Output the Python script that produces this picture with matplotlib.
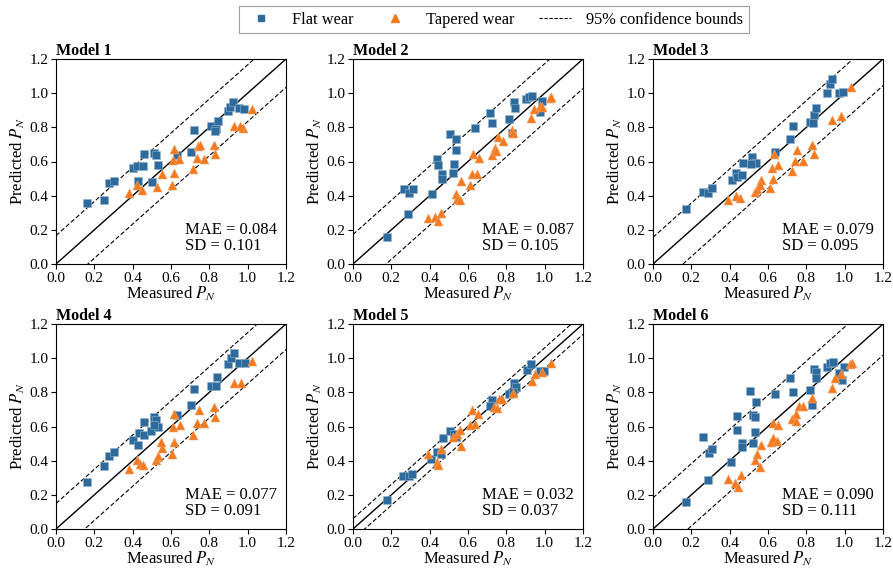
import matplotlib
matplotlib.use("Agg")
import matplotlib.pyplot as plt
from matplotlib.lines import Line2D

plt.rcParams['font.family'] = ['Liberation Serif', 'DejaVu Serif']
plt.rcParams['mathtext.fontset'] = 'stix'
plt.rcParams['font.size'] = 11

# ---------------- data ----------------
model_names = ["Model 1", "Model 2", "Model 3", "Model 4", "Model 5", "Model 6"]
mae_values = [0.084, 0.087, 0.079, 0.077, 0.032, 0.090]
sd_values = [0.101, 0.105, 0.095, 0.091, 0.037, 0.111]
bound_factor = 1.645

m1_flat_x = [0.164, 0.253, 0.279, 0.300, 0.400, 0.423, 0.452, 0.459, 0.513, 0.524, 0.531, 0.428, 0.500, 0.630, 0.704, 0.720, 0.807, 0.833, 0.830, 0.845, 0.896, 0.908, 0.926, 0.955, 0.980]
m1_flat_y = [0.360, 0.374, 0.473, 0.483, 0.561, 0.575, 0.575, 0.643, 0.650, 0.640, 0.580, 0.483, 0.481, 0.639, 0.655, 0.787, 0.805, 0.790, 0.780, 0.840, 0.898, 0.921, 0.951, 0.912, 0.908]
m1_tap_x = [0.383, 0.421, 0.450, 0.527, 0.554, 0.603, 0.618, 0.617, 0.612, 0.643, 0.716, 0.734, 0.741, 0.750, 0.772, 0.823, 0.828, 0.929, 0.976, 0.960, 1.020]
m1_tap_y = [0.415, 0.460, 0.434, 0.452, 0.526, 0.464, 0.532, 0.672, 0.608, 0.616, 0.555, 0.619, 0.688, 0.694, 0.612, 0.697, 0.643, 0.808, 0.799, 0.810, 0.908]

m2_flat_x = [0.175, 0.288, 0.265, 0.293, 0.311, 0.410, 0.437, 0.442, 0.466, 0.466, 0.507, 0.538, 0.535, 0.529, 0.524, 0.636, 0.716, 0.727, 0.816, 0.828, 0.838, 0.847, 0.903, 0.920, 0.934, 0.987, 0.978]
m2_flat_y = [0.157, 0.292, 0.440, 0.415, 0.440, 0.409, 0.617, 0.577, 0.529, 0.495, 0.763, 0.734, 0.670, 0.587, 0.532, 0.797, 0.885, 0.828, 0.848, 0.767, 0.949, 0.914, 0.963, 0.977, 0.983, 0.955, 0.891]
m2_tap_x = [0.393, 0.428, 0.445, 0.459, 0.538, 0.545, 0.559, 0.564, 0.611, 0.620, 0.646, 0.625, 0.655, 0.725, 0.743, 0.746, 0.756, 0.780, 0.830, 0.833, 0.931, 0.943, 0.978, 0.987, 1.027, 1.034]
m2_tap_y = [0.268, 0.274, 0.251, 0.300, 0.411, 0.382, 0.372, 0.483, 0.460, 0.529, 0.529, 0.646, 0.620, 0.636, 0.679, 0.660, 0.744, 0.720, 0.783, 0.767, 0.855, 0.906, 0.924, 0.920, 0.973, 0.979]

m3_flat_x = [0.171, 0.260, 0.287, 0.308, 0.410, 0.435, 0.440, 0.466, 0.470, 0.519, 0.528, 0.537, 0.510, 0.637, 0.713, 0.730, 0.818, 0.836, 0.839, 0.853, 0.908, 0.924, 0.936, 0.968, 0.990]
m3_flat_y = [0.323, 0.421, 0.415, 0.446, 0.493, 0.534, 0.509, 0.523, 0.593, 0.626, 0.593, 0.593, 0.585, 0.656, 0.730, 0.806, 0.832, 0.826, 0.871, 0.914, 1.002, 1.051, 1.082, 1.002, 1.008]
m3_tap_x = [0.392, 0.435, 0.454, 0.533, 0.540, 0.563, 0.560, 0.612, 0.628, 0.621, 0.654, 0.630, 0.727, 0.741, 0.751, 0.783, 0.832, 0.839, 0.936, 0.982, 1.035]
m3_tap_y = [0.376, 0.397, 0.388, 0.421, 0.440, 0.489, 0.460, 0.446, 0.495, 0.562, 0.581, 0.642, 0.542, 0.601, 0.666, 0.605, 0.699, 0.644, 0.842, 0.865, 1.038]

m4_flat_x = [0.164, 0.253, 0.279, 0.300, 0.400, 0.428, 0.431, 0.458, 0.459, 0.498, 0.513, 0.524, 0.531, 0.513, 0.630, 0.704, 0.720, 0.807, 0.833, 0.842, 0.896, 0.912, 0.929, 0.955, 0.987]
m4_flat_y = [0.275, 0.366, 0.425, 0.450, 0.522, 0.493, 0.561, 0.551, 0.629, 0.575, 0.658, 0.639, 0.600, 0.610, 0.668, 0.725, 0.818, 0.840, 0.840, 0.892, 0.964, 1.003, 1.029, 0.974, 0.974]
m4_tap_x = [0.383, 0.421, 0.440, 0.452, 0.522, 0.531, 0.554, 0.550, 0.603, 0.618, 0.617, 0.611, 0.645, 0.716, 0.734, 0.746, 0.772, 0.823, 0.828, 0.929, 0.964, 1.022]
m4_tap_y = [0.353, 0.401, 0.380, 0.376, 0.405, 0.425, 0.477, 0.512, 0.438, 0.510, 0.672, 0.600, 0.606, 0.551, 0.619, 0.697, 0.623, 0.717, 0.658, 0.853, 0.853, 0.984]

m5_flat_x = [0.175, 0.262, 0.292, 0.309, 0.407, 0.437, 0.459, 0.468, 0.507, 0.538, 0.529, 0.725, 0.716, 0.816, 0.842, 0.851, 0.833, 0.908, 0.931, 0.975, 0.996]
m5_flat_y = [0.172, 0.313, 0.313, 0.323, 0.411, 0.450, 0.440, 0.534, 0.572, 0.538, 0.558, 0.754, 0.718, 0.793, 0.855, 0.832, 0.802, 0.930, 0.963, 0.926, 0.924]
m5_tap_x = [0.393, 0.440, 0.445, 0.459, 0.524, 0.541, 0.559, 0.564, 0.611, 0.620, 0.634, 0.652, 0.734, 0.751, 0.760, 0.777, 0.835, 0.935, 0.949, 0.987, 1.031]
m5_tap_y = [0.440, 0.395, 0.372, 0.470, 0.538, 0.554, 0.581, 0.483, 0.607, 0.695, 0.613, 0.675, 0.715, 0.709, 0.760, 0.760, 0.797, 0.867, 0.910, 0.920, 0.973]

m6_flat_x = [0.171, 0.285, 0.259, 0.294, 0.308, 0.408, 0.436, 0.440, 0.466, 0.466, 0.507, 0.524, 0.533, 0.537, 0.530, 0.523, 0.637, 0.713, 0.730, 0.818, 0.830, 0.841, 0.853, 0.850, 0.906, 0.924, 0.938, 0.994, 0.985, 0.968]
m6_flat_y = [0.157, 0.288, 0.538, 0.444, 0.470, 0.392, 0.660, 0.577, 0.505, 0.480, 0.807, 0.669, 0.656, 0.744, 0.568, 0.505, 0.789, 0.885, 0.803, 0.816, 0.724, 0.934, 0.920, 0.885, 0.949, 0.969, 0.975, 0.949, 0.871, 0.914]
m6_tap_x = [0.392, 0.428, 0.443, 0.461, 0.530, 0.540, 0.560, 0.565, 0.616, 0.628, 0.648, 0.628, 0.654, 0.725, 0.744, 0.748, 0.760, 0.783, 0.832, 0.936, 0.947, 0.982, 1.029, 1.038]
m6_tap_y = [0.290, 0.270, 0.245, 0.319, 0.405, 0.440, 0.362, 0.489, 0.509, 0.534, 0.515, 0.620, 0.607, 0.646, 0.632, 0.675, 0.718, 0.722, 0.767, 0.828, 0.885, 0.910, 0.963, 0.973]

flat_x = [m1_flat_x, m2_flat_x, m3_flat_x, m4_flat_x, m5_flat_x, m6_flat_x]
flat_y = [m1_flat_y, m2_flat_y, m3_flat_y, m4_flat_y, m5_flat_y, m6_flat_y]
tap_x = [m1_tap_x, m2_tap_x, m3_tap_x, m4_tap_x, m5_tap_x, m6_tap_x]
tap_y = [m1_tap_y, m2_tap_y, m3_tap_y, m4_tap_y, m5_tap_y, m6_tap_y]

ticks = [0.0, 0.2, 0.4, 0.6, 0.8, 1.0, 1.2]
tick_labels = ["0.0", "0.2", "0.4", "0.6", "0.8", "1.0", "1.2"]

# ---------------- style ----------------
blue = '#2e6b9c'
orange = '#f47a20'

fig = plt.figure(figsize=(8.93, 5.74), dpi=100)
lefts = [56 / 893, 353 / 893, 653 / 893]
bottoms = [1 - 264 / 574, 1 - 529 / 574]
w = 230 / 893
h = 205 / 574

for i in range(6):
    r, c = divmod(i, 3)
    ax = fig.add_axes([lefts[c], bottoms[r], w, h])
    line = [0.0, 1.2]
    b = bound_factor * sd_values[i]
    ax.plot(line, line, color='black', lw=1.0, zorder=1)
    ax.plot(line, [v + b for v in line], color='black', lw=0.8, ls='--', dashes=(4, 2), zorder=1)
    ax.plot(line, [v - b for v in line], color='black', lw=0.8, ls='--', dashes=(4, 2), zorder=1)
    ax.scatter(flat_x[i], flat_y[i], marker='s', s=36, color=blue, edgecolors='#8fb2cf',
               linewidths=0.4, zorder=3)
    ax.scatter(tap_x[i], tap_y[i], marker='^', s=42, color=orange, edgecolors='#f7a46a',
               linewidths=0.4, zorder=3)
    ax.set_xlim(0, 1.2)
    ax.set_ylim(0, 1.2)
    ax.set_xticks(ticks)
    ax.set_xticklabels(tick_labels)
    ax.set_yticks(ticks)
    ax.set_yticklabels(tick_labels)
    ax.tick_params(labelsize=11, length=3.5, width=0.8, pad=2)
    ax.set_xlabel('Measured $P_N$', fontsize=12, labelpad=0)
    ax.set_ylabel('Predicted $P_N$', fontsize=12, labelpad=2)
    ax.set_title(model_names[i], loc='left', fontweight='bold', fontsize=11.5, pad=2)
    ax.text(0.96, 0.05, f"MAE = {mae_values[i]:.3f}\nSD = {sd_values[i]:.3f}",
            transform=ax.transAxes, ha='right', va='bottom', multialignment='left',
            fontsize=12, linespacing=1.0)

handles = [
    Line2D([], [], marker='s', color=blue, ls='none', markersize=5),
    Line2D([], [], marker='^', color=orange, ls='none', markersize=6),
    Line2D([], [], color='black', lw=0.8, ls='--', dashes=(3, 1.5)),
]
labels = ['Flat wear', 'Tapered wear', '95% confidence bounds']
leg = fig.legend(handles, labels, loc='upper center', ncol=3, bbox_to_anchor=(0.553, 1.004),
                 frameon=True, fancybox=False, edgecolor='#888888', fontsize=11.8,
                 handlelength=2.0, columnspacing=1.5, borderpad=0.35, handletextpad=0.9)
leg.get_frame().set_linewidth(0.8)

fig.savefig('out.png', dpi=100)
